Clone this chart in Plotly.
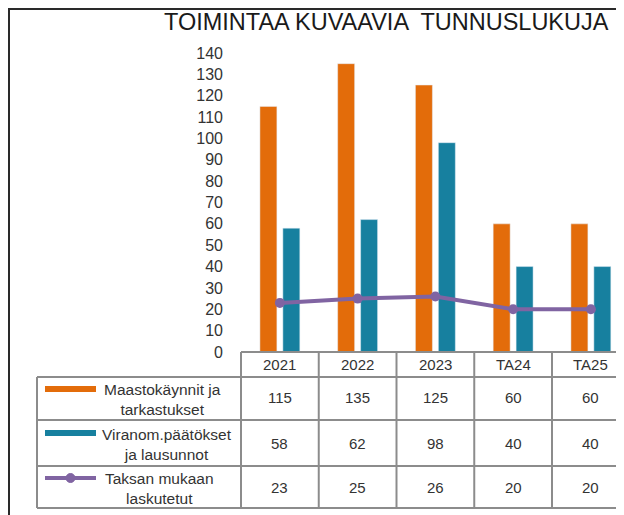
import plotly.graph_objects as go

# ---- data ----
categories = ["2021", "2022", "2023", "TA24", "TA25"]
maastokaynnit = [115, 135, 125, 60, 60]
viranom = [58, 62, 98, 40, 40]
taksan = [23, 25, 26, 20, 20]
series_names = ["Maastokäynnit ja<br>tarkastukset",
                "Viranom.päätökset<br>ja lausunnot",
                "Taksan mukaan<br>laskutetut"]
title_text = "TOIMINTAA KUVAAVIA  TUNNUSLUKUJA"
y_ticks = list(range(0, 141, 10))

# ---- style ----
ORANGE = "#E36C0A"
TEAL = "#17809F"
PURPLE = "#8064A2"
TXT = "#333333"
GRID = "#8C8C8C"
FONT = "Liberation Sans, Arial, sans-serif"

OFF = 8                      # page body margin
W, H = 624 - OFF, 515 - OFF
PLOT_LEFT, PLOT_TOP, PLOT_BOTTOM = 241, 53, 352   # page pixel coordinates
L, T = PLOT_LEFT - OFF, PLOT_TOP - OFF
B = H - (PLOT_BOTTOM - OFF)
plot_w = W - L
plot_h = PLOT_BOTTOM - PLOT_TOP
X0, X1 = -0.5, 4.426


def px2p(px):
    return (px - PLOT_LEFT) / plot_w


def py2p(py):
    return (PLOT_BOTTOM - py) / plot_h


def cat2p(i):
    return (i - X0) / (X1 - X0)


fig = go.Figure()
fig.add_trace(go.Bar(x=list(range(len(categories))), y=maastokaynnit,
                     marker_color=ORANGE, name=series_names[0]))
fig.add_trace(go.Bar(x=list(range(len(categories))), y=viranom,
                     marker_color=TEAL, name=series_names[1]))
fig.add_trace(go.Scatter(x=list(range(len(categories))), y=taksan,
                         mode="lines+markers", name=series_names[2],
                         line=dict(color=PURPLE, width=4),
                         marker=dict(color=PURPLE, size=10),
                         cliponaxis=False))

shapes = []
annotations = []
line_style = dict(color=GRID, width=2)

# table geometry (page pixels)
row_y = [352, 377, 420, 466, 508]
legend_left = 37
n = len(categories)
right_p = cat2p(n - 0.5)

shapes.append(dict(type="line", xref="paper", yref="paper",
                   x0=cat2p(-0.5), x1=right_p, y0=py2p(row_y[0]), y1=py2p(row_y[0]),
                   line=line_style))
for ry in row_y[1:]:
    shapes.append(dict(type="line", xref="paper", yref="paper",
                       x0=px2p(legend_left), x1=right_p, y0=py2p(ry), y1=py2p(ry),
                       line=line_style))
for k in range(n + 1):
    xp = cat2p(k - 0.5)
    shapes.append(dict(type="line", xref="paper", yref="paper",
                       x0=xp, x1=xp, y0=py2p(row_y[0]), y1=py2p(row_y[-1]),
                       line=line_style))
shapes.append(dict(type="line", xref="paper", yref="paper",
                   x0=px2p(legend_left), x1=px2p(legend_left),
                   y0=py2p(row_y[1]), y1=py2p(row_y[-1]), line=line_style))

for i, c in enumerate(categories):
    annotations.append(dict(xref="paper", yref="paper", x=cat2p(i), y=py2p(364.5),
                            text=c, showarrow=False, xanchor="center", yanchor="middle",
                            font=dict(size=15, color=TXT, family=FONT)))

rows = [maastokaynnit, viranom, taksan]
row_centers = [398, 443, 487]
for vals, cy in zip(rows, row_centers):
    for i, v in enumerate(vals):
        annotations.append(dict(xref="paper", yref="paper", x=cat2p(i), y=py2p(cy),
                                text=str(v), showarrow=False, xanchor="center",
                                yanchor="middle",
                                font=dict(size=15, color=TXT, family=FONT)))

key_y = [389, 433, 478]
name_x = [162, 167, 159]
name_y = [399, 444, 488]
colors = [ORANGE, TEAL, PURPLE]
for j in range(3):
    shapes.append(dict(type="line", xref="paper", yref="paper",
                       x0=px2p(45), x1=px2p(96), y0=py2p(key_y[j]), y1=py2p(key_y[j]),
                       line=dict(color=colors[j], width=6 if j < 2 else 4)))
    annotations.append(dict(xref="paper", yref="paper", x=px2p(name_x[j]),
                            y=py2p(name_y[j]), text=series_names[j], showarrow=False,
                            xanchor="center", yanchor="middle", align="center",
                            font=dict(size=15.5, color=TXT, family=FONT)))
shapes.append(dict(type="circle", xref="paper", yref="paper",
                   x0=px2p(66), x1=px2p(75), y0=py2p(473.5), y1=py2p(482.5),
                   fillcolor=PURPLE, line=dict(color=PURPLE, width=1)))

# outer frame
shapes.append(dict(type="rect", xref="paper", yref="paper",
                   x0=px2p(OFF + 1), x1=px2p(650), y0=py2p(OFF + 1), y1=py2p(560),
                   line=dict(color="#2a2a2a", width=2), fillcolor="rgba(0,0,0,0)"))

annotations.append(dict(xref="paper", yref="paper", x=px2p(386), y=py2p(22),
                        text=title_text, showarrow=False, xanchor="center",
                        yanchor="middle",
                        font=dict(size=23.5, color="#1a1a1a", family=FONT)))

fig.update_layout(
    width=W, height=H,
    margin=dict(l=L, r=0, t=T, b=B, pad=0),
    paper_bgcolor="white", plot_bgcolor="white",
    showlegend=False,
    barmode="group", bargap=0.41, bargroupgap=0.26,
    shapes=shapes, annotations=annotations,
    font=dict(family=FONT, color=TXT),
    xaxis=dict(range=[X0, X1], showticklabels=False, showgrid=False,
               zeroline=False, showline=False, ticks=""),
    yaxis=dict(range=[0, 140], tickvals=y_ticks, showgrid=False, zeroline=False,
               showline=False, ticks="", ticklabelstandoff=17,
               tickfont=dict(size=16, color=TXT, family=FONT)),
)

fig.write_html("out.html")
